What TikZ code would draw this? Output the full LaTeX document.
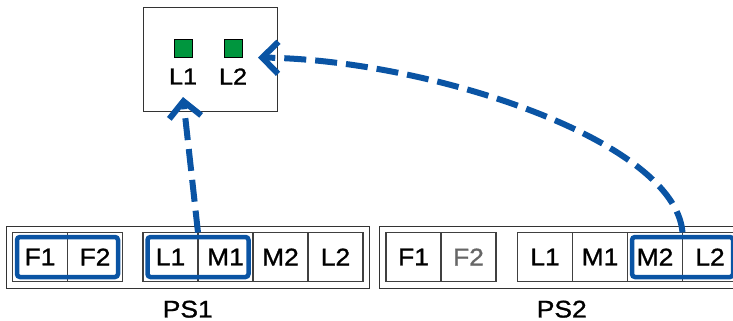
\documentclass[tikz,border=0pt]{standalone}
\usepackage{fontspec}
\setmainfont[FakeStretch=1.1, FakeBold=1.2]{Liberation Sans}
\usetikzlibrary{arrows.meta,positioning,fit}
\definecolor{selblue}{RGB}{10,84,164}
\definecolor{ledgreen}{RGB}{0,150,62}
\tikzset{
  cell/.style ={rectangle, draw=black!75, line width=1.2pt, minimum width=55pt,
                minimum height=49pt, inner sep=0pt, outer sep=0pt,
                font=\fontsize{24}{28}\selectfont},
  sel/.style  ={rectangle, rounded corners=3pt, draw=selblue, line width=4.5pt,
                inner sep=-4.5pt},
  frame/.style={rectangle, draw=black!80, line width=1pt, inner sep=6.5pt},
  led/.style  ={rectangle, draw=black, line width=0.8pt, fill=ledgreen,
                minimum size=18pt, inner sep=0pt},
  lbl/.style  ={inner sep=0pt, font=\fontsize{23}{28}\selectfont},
  caption/.style={inner sep=0pt, font=\fontsize{24}{28}\selectfont},
  link/.style ={draw=selblue, line width=6pt, dash pattern=on 22pt off 9pt,
                -{Straight Barb[length=16pt, width=32pt]}},
}
\begin{document}
\begin{tikzpicture}[x=1pt, y=-1pt, node distance=0pt]
  \useasboundingbox (0,0) rectangle (733,321);
  \clip (0,0) rectangle (733,321);
  % unit with two lamps
  \node[rectangle, draw=black!80, line width=1pt, minimum width=134pt,
        minimum height=103pt] (unit) at (210,59.5) {};
  \node[led] (g1) at (183,48) {};
  \node[led] (g2) at (233,48) {};
  \node[lbl] (n1) at (183,76.5) {L1};
  \node[lbl] (n2) at (233,76.5) {L2};
  % PS1
  \node[cell] (a1) at (40,257) {F1};
  \node[cell, right=of a1] (a2) {F2};
  \node[cell] (a3) at (170.5,257) {L1};
  \node[cell, right=of a3] (a4) {M1};
  \node[cell, right=of a4] (a5) {M2};
  \node[cell, right=of a5] (a6) {L2};
  \node[frame, fit=(a1)(a6)] (ps1) {};
  \node[caption, below=12pt of ps1] {PS1};
  \node[sel, fit=(a1)(a2)] {};
  \node[sel, fit=(a3)(a4)] {};
  % PS2
  \node[cell] (b1) at (413.5,257) {F1};
  \node[cell, right=of b1, text=black!60] (b2) {F2};
  \node[cell] (b3) at (545,257) {L1};
  \node[cell, right=of b3] (b4) {M1};
  \node[cell, right=of b4] (b5) {M2};
  \node[cell, right=of b5] (b6) {L2};
  \node[frame, fit=(b1)(b6)] (ps2) {};
  \node[caption, below=12pt of ps2] {PS2};
  \node[sel, fit=(b5)(b6)] {};
  % links
  \coordinate (tip1) at (183,97);
  \coordinate (tip2) at (258,57.5);
  \draw[link] (a3.north east) -- (tip1);
  \draw[link] (b5.north east) .. controls (675,140) and (430,60) .. (tip2);
\end{tikzpicture}
\end{document}
